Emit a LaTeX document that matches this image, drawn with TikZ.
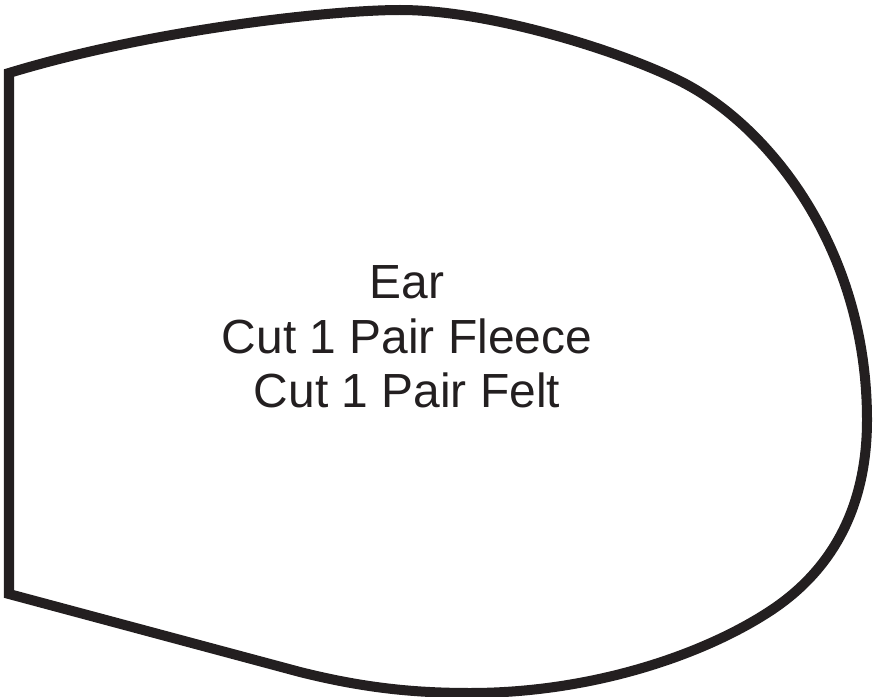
\documentclass[tikz,border=0pt]{standalone}
\usepackage{fontspec}
\setmainfont{Liberation Sans}
\definecolor{ink}{HTML}{231F20}
\begin{document}
\begin{tikzpicture}[x=1bp,y=-1bp,
  outline/.style={draw=ink,line width=10bp,line join=miter},
  lbl/.style={font=\fontsize{47.9bp}{53bp}\selectfont,text=ink,inner sep=0pt,anchor=base}]
\useasboundingbox (0,0) rectangle (874,697);
\draw[outline] (9,594) -- (9,73)
  .. controls (150,30) and (330,10) .. (400,10)
  .. controls (490,10) and (620,51) .. (680,81)
  .. controls (770,126) and (867,250) .. (867,420)
  .. controls (867,510) and (830,573) .. (767,613)
  .. controls (700,656) and (590,693) .. (470,693)
  .. controls (410,693) and (360,687) .. (300,672)
  -- cycle;
\node[lbl] (l1) at (407,298) {Ear};
\node[lbl] (l2) at (407,353) {Cut 1 Pair Fleece};
\node[lbl] (l3) at (407,407) {Cut 1 Pair Felt};
\end{tikzpicture}
\end{document}
